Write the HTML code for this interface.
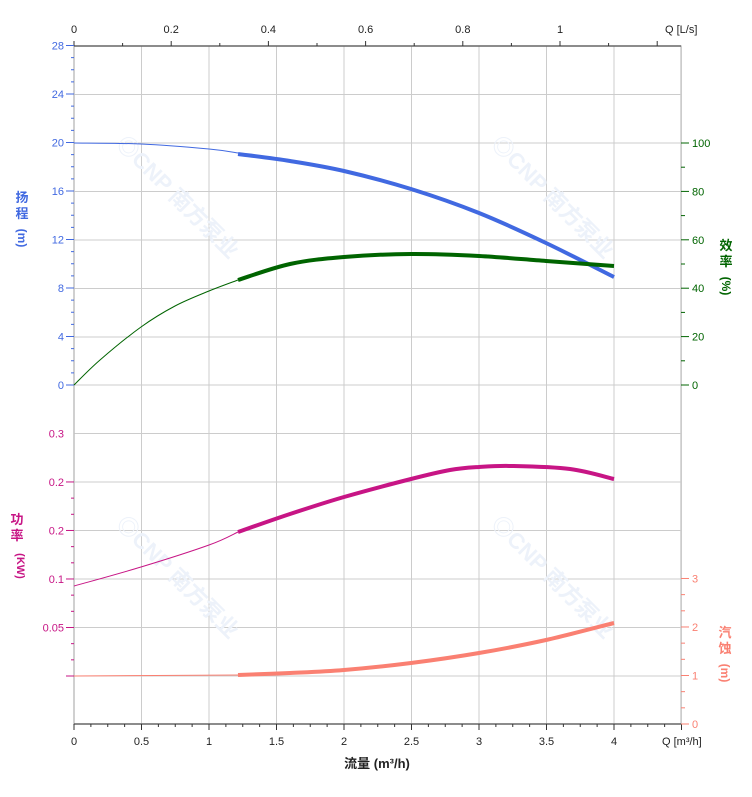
<!DOCTYPE html>
<html><head><meta charset="utf-8"><style>
body{margin:0;background:#fff}
svg{display:block;font-family:"Liberation Sans","Noto Sans CJK SC",sans-serif}
</style></head><body>
<svg id="s" width="752" height="797" viewBox="0 0 752 797" xmlns="http://www.w3.org/2000/svg"></svg>
<script>
const s=document.getElementById('s');let h='';
const X0=74,T=46,B=724;
const gy=[46,94.5,143,191.5,240,288.5,337,385,433.5,482,530.5,579,627.5,676];
for(let i=1;i<=9;i++){const x=X0+i*67.5;h+=`<line x1="${x}" y1="${T}" x2="${x}" y2="${B}" stroke="#ccc"/>`;}
gy.forEach(y=>h+=`<line x1="${X0}" y1="${y}" x2="681" y2="${y}" stroke="#ccc"/>`);
h+=`<rect x="${X0}" y="${T}" width="607" height="${B-T}" fill="none" stroke="#ccc" stroke-width="1.5"/>`;
h+=`<line x1="${X0}" y1="${T}" x2="${X0}" y2="${B}" stroke="#bbb"/>`;
for(let i=0;i<=36;i++){const x=X0+i*16.875;h+=`<line x1="${x}" y1="${B}" x2="${x}" y2="${B+(i%4==0?6:3)}" stroke="#333"/>`;}
h+=`<line x1="${X0}" y1="${B}" x2="681" y2="${B}" stroke="#333"/>`;
['0','0.5','1','1.5','2','2.5','3','3.5','4'].forEach((t,i)=>h+=`<text x="${X0+i*67.5}" y="745" font-size="11" text-anchor="middle" fill="#222">${t}</text>`);
h+=`<text x="662" y="745" font-size="11" fill="#222">Q [m³/h]</text>`;
h+=`<text x="377" y="768" font-size="13" font-weight="bold" text-anchor="middle" fill="#222">流量 (m³/h)</text>`;
for(let i=0;i<=12;i++){const x=X0+i*48.6;h+=`<line x1="${x}" y1="${T}" x2="${x}" y2="${T-(i%2==0?5:3)}" stroke="#333"/>`;}
h+=`<line x1="${X0}" y1="${T}" x2="681" y2="${T}" stroke="#333"/>`;
['0','0.2','0.4','0.6','0.8','1'].forEach((t,i)=>h+=`<text x="${X0+i*97.2}" y="33" font-size="11" text-anchor="middle" fill="#222">${t}</text>`);
h+=`<text x="665" y="33" font-size="11" fill="#222">Q [L/s]</text>`;
const bl='#4169e1',pw='#c71585',gr='#006400',np='#fa8072';
for(let i=0;i<=28;i++){const y=385-i*12.125;h+=`<line x1="${i%4==0?66:71}" y1="${y}" x2="${X0}" y2="${y}" stroke="${bl}"/>`;}
[0,4,8,12,16,20,24,28].forEach(v=>h+=`<text x="64" y="${389-v*12.125}" font-size="11" text-anchor="end" fill="${bl}">${v}</text>`);
h+=`<text x="22" y="202" font-size="13" font-weight="bold" text-anchor="middle" fill="${bl}">扬</text><text x="22" y="218" font-size="13" font-weight="bold" text-anchor="middle" fill="${bl}">程</text><text x="22" y="242" font-size="12" font-weight="bold" text-anchor="middle" fill="${bl}" transform="rotate(90 22 238)">(m)</text>`;
for(let i=0;i<=12;i++){const y=676-i*16.17;h+=`<line x1="${i%3==0?66:71}" y1="${y}" x2="${X0}" y2="${y}" stroke="${pw}"/>`;}
[['0.05',627.5],['0.1',579],['0.2',530.5],['0.2',482],['0.3',433.5]].forEach(a=>h+=`<text x="64" y="${a[1]+4}" font-size="11" text-anchor="end" fill="${pw}">${a[0]}</text>`);
h+=`<text x="17" y="524" font-size="13" font-weight="bold" text-anchor="middle" fill="${pw}">功</text><text x="17" y="540" font-size="13" font-weight="bold" text-anchor="middle" fill="${pw}">率</text><text x="17" y="566" font-size="11" font-weight="bold" text-anchor="middle" fill="${pw}" transform="rotate(90 17 566)">(KW)</text>`;
for(let i=0;i<=10;i++){const y=385-i*24.2;h+=`<line x1="681" y1="${y}" x2="${i%2==0?689:685}" y2="${y}" stroke="${gr}"/>`;}
[0,20,40,60,80,100].forEach(v=>h+=`<text x="692" y="${389-v*2.42}" font-size="11" fill="${gr}">${v}</text>`);
h+=`<text x="726" y="250" font-size="13" font-weight="bold" text-anchor="middle" fill="${gr}">效</text><text x="726" y="266" font-size="13" font-weight="bold" text-anchor="middle" fill="${gr}">率</text><text x="726" y="290" font-size="12" font-weight="bold" text-anchor="middle" fill="${gr}" transform="rotate(90 726 286)">(%)</text>`;
for(let i=0;i<=9;i++){const y=724-i*16.17;h+=`<line x1="681" y1="${y}" x2="${i%3==0?689:685}" y2="${y}" stroke="${np}"/>`;}
[0,1,2,3].forEach(v=>h+=`<text x="692" y="${728-v*48.5}" font-size="11" fill="${np}">${v}</text>`);
h+=`<text x="725" y="637" font-size="13" font-weight="bold" text-anchor="middle" fill="${np}">汽</text><text x="725" y="653" font-size="13" font-weight="bold" text-anchor="middle" fill="${np}">蚀</text><text x="725" y="677" font-size="12" font-weight="bold" text-anchor="middle" fill="${np}" transform="rotate(90 725 673)">(m)</text>`;
[[115,145],[490,145],[115,525],[490,525]].forEach(p=>h+=`<text x="${p[0]}" y="${p[1]}" font-size="22" font-weight="bold" fill="#edf2fa" transform="rotate(45 ${p[0]} ${p[1]})">◎CNP 南方泵业</text>`);
function c(p,col,w){let d='M'+p[0].join(',');
 for(let i=0;i<p.length-1;i++){const a=p[Math.max(0,i-1)],b=p[i],e=p[i+1],f=p[Math.min(p.length-1,i+2)];
  const c1=[b[0]+(e[0]-a[0])/6,b[1]+(e[1]-a[1])/6],c2=[e[0]-(f[0]-b[0])/6,e[1]-(f[1]-b[1])/6];
  d+=` C${c1[0]},${c1[1]} ${c2[0]},${c2[1]} ${e[0]},${e[1]}`;}
 h+=`<path d="${d}" fill="none" stroke="${col}" stroke-width="${w}" stroke-linejoin="round"/>`;}
c([[74,143],[141,144],[209,149],[238,153]],bl,1);
c([[238,154],[290,161],[344,171],[411,189],[479,213],[546,243],[614,277]],bl,4);
c([[74,385],[100,360],[141,327],[175,306],[209,291],[238,280]],gr,1);
c([[238,280],[290,264],[344,257],[411,254],[479,256],[546,261],[614,266]],gr,4);
c([[74,586],[141,567],[209,545],[238,532]],pw,1);
c([[238,532],[290,514],[344,497],[411,479],[450,470],[479,467],[512,466],[570,469],[614,479]],pw,4);
c([[74,676],[238,675]],np,1);
c([[238,675],[290,673],[344,670],[411,663],[479,653],[546,640],[614,623]],np,4);
s.innerHTML=h;
</script>
</body></html>
